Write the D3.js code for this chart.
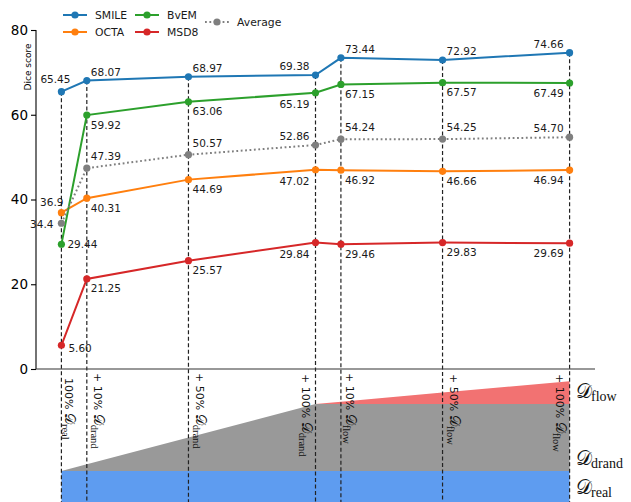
<!DOCTYPE html>
<html>
<head>
<meta charset="utf-8">
<script src="https://cdn.jsdelivr.net/npm/d3@7"></script>
<style>
  body { margin: 0; background: #fff; }
  svg { display: block; }
  .num { font-family: "DejaVu Sans", sans-serif; font-size: 10.5px; fill: #1a1a1a; }
  .leg { font-family: "DejaVu Sans", sans-serif; font-size: 10.8px; fill: #1a1a1a; }
  .cal { font-family: "DejaVu Serif", serif; }
  .sub { font-family: "Liberation Serif", "DejaVu Serif", serif; }
</style>
</head>
<body>
<div id="chart"></div>
<script>
// steps along the x axis (cumulative % of extra data)
const steps = [0, 10, 50, 100, 110, 150, 200];
const tickPrefix = ["100%", "+ 10%", "+ 50%", "+ 100%", "+ 10%", "+ 50%", "+ 100%"];
const tickSet = ["real", "drand", "drand", "drand", "flow", "flow", "flow"];

const seriesNames = ["SMILE", "OCTA", "BvEM", "MSD8", "Average"];
const smile = [65.45, 68.07, 68.97, 69.38, 73.44, 72.92, 74.66];
const octa = [36.9, 40.31, 44.69, 47.02, 46.92, 46.66, 46.94];
const bvem = [29.44, 59.92, 63.06, 65.19, 67.15, 67.57, 67.49];
const msd8 = [5.60, 21.25, 25.57, 29.84, 29.46, 29.83, 29.69];
const average = [34.4, 47.39, 50.57, 52.86, 54.24, 54.25, 54.70];
const labelText = {
  SMILE: ["65.45", "68.07", "68.97", "69.38", "73.44", "72.92", "74.66"],
  OCTA: ["36.9", "40.31", "44.69", "47.02", "46.92", "46.66", "46.94"],
  BvEM: ["29.44", "59.92", "63.06", "65.19", "67.15", "67.57", "67.49"],
  MSD8: ["5.60", "21.25", "25.57", "29.84", "29.46", "29.83", "29.69"],
  Average: ["34.4", "47.39", "50.57", "52.86", "54.24", "54.25", "54.70"]
};
const yTicks = [0, 20, 40, 60, 80];

// training set composition (stacked, relative units)
const realShare = [100, 100, 100, 100, 100, 100, 100];
const drandShare = [0, 10, 50, 100, 100, 100, 100];
const flowShare = [0, 0, 0, 0, 3.4, 17, 34];

const colors = { SMILE: "#1f77b4", OCTA: "#ff7f0e", BvEM: "#2ca02c", MSD8: "#d62728", Average: "#7f7f7f" };
const values = { SMILE: smile, OCTA: octa, BvEM: bvem, MSD8: msd8, Average: average };

const width = 631, height = 502;
const svg = d3.select("#chart").append("svg").attr("width", width).attr("height", height);

const x = d3.scaleLinear().domain([-10, 210]).range([36, 595]);
const y = d3.scaleLinear().domain([0, 80]).range([369, 30]);
const yb = d3.scaleLinear().domain([0, 200]).range([538, 404]);

// ---- bottom panel: stacked areas
const stackRows = steps.map(function(s, i) {
  return { s: s, real: realShare[i], drand: drandShare[i], flow: flowShare[i] };
});
const stacked = d3.stack().keys(["real", "drand", "flow"])(stackRows);
const areaCol = { real: "#5e9cf0", drand: "#999999", flow: "#f27272" };
const area = d3.area()
  .x(function(d) { return x(d.data.s); })
  .y0(function(d) { return yb(d[0]); })
  .y1(function(d) { return yb(d[1]); });
svg.append("g").selectAll("path").data(stacked).enter().append("path")
  .attr("d", area)
  .attr("fill", function(d) { return areaCol[d.key]; });

// right side labels of the stack
const sideLab = [["flow", 398], ["drand", 465], ["real", 494]];
sideLab.forEach(function(l) {
  var t = svg.append("text").attr("x", 576).attr("y", l[1]).attr("fill", "#111");
  t.append("tspan").attr("class", "cal").style("font-size", "20px").text("𝒟");
  t.append("tspan").attr("class", "sub").style("font-size", "14px").attr("dx", -1).attr("dy", 3).text(l[0]);
});

// ---- dashed guide lines
const topVal = steps.map(function(s, i) { return d3.max(seriesNames, function(n) { return values[n][i]; }); });
svg.append("g").selectAll("line").data(steps).enter().append("line")
  .attr("x1", function(d) { return x(d); })
  .attr("x2", function(d) { return x(d); })
  .attr("y1", function(d, i) { return y(topVal[i]); })
  .attr("y2", height)
  .attr("stroke", "#222")
  .attr("stroke-width", 1.2)
  .attr("stroke-dasharray", "4,2.5");

// ---- axes
const yAxis = d3.axisLeft(y).tickValues(yTicks).tickSize(5).tickPadding(3);
const gy = svg.append("g").attr("transform", "translate(36,0)").call(yAxis);
gy.select(".domain").attr("stroke", "#000").attr("stroke-width", 1.1).attr("d", "M0,30V369");
gy.selectAll(".tick line").attr("stroke", "#000").attr("stroke-width", 1.1);
gy.selectAll(".tick text").attr("font-family", "DejaVu Sans, sans-serif").attr("font-size", "13.5px").attr("fill", "#000");

svg.append("line").attr("x1", 36).attr("x2", 595).attr("y1", 369).attr("y2", 369)
  .attr("stroke", "#333").attr("stroke-width", 1.1);

svg.append("text")
  .attr("transform", "translate(31,67) rotate(-90)")
  .attr("text-anchor", "middle")
  .attr("font-family", "DejaVu Sans, sans-serif")
  .attr("font-size", "9px")
  .attr("fill", "#000")
  .text("Dice score");

// rotated tick labels
const tickDx = [4, 7, 8, -14, 5, 7, -14];
const tickTop = [378, 373, 373, 374, 373, 374, 374];
steps.forEach(function(s, i) {
  var t = svg.append("text")
    .attr("transform", "translate(" + (x(s) + tickDx[i]) + "," + tickTop[i] + ") rotate(90)")
    .attr("fill", "#111");
  t.append("tspan").attr("font-family", "DejaVu Sans, sans-serif").attr("font-size", "11px").text(tickPrefix[i] + " ");
  t.append("tspan").attr("class", "cal").attr("font-size", "14px").text("𝒟");
  t.append("tspan").attr("class", "sub").attr("font-size", "10.5px").attr("dy", 3).text(tickSet[i]);
});

// ---- lines + markers
const line = d3.line().x(function(d) { return x(d[0]); }).y(function(d) { return y(d[1]); });
seriesNames.forEach(function(n) {
  var pts = steps.map(function(s, i) { return [s, values[n][i]]; });
  svg.append("path").datum(pts)
    .attr("d", line)
    .attr("fill", "none")
    .attr("stroke", colors[n])
    .attr("stroke-width", 2)
    .attr("stroke-dasharray", n === "Average" ? "1.8,2.6" : null);
  svg.append("g").selectAll("circle").data(pts).enter().append("circle")
    .attr("cx", function(d) { return x(d[0]); })
    .attr("cy", function(d) { return y(d[1]); })
    .attr("r", 3.6)
    .attr("fill", colors[n]);
});

// value labels
const labelSide = { SMILE: "above", OCTA: "below", BvEM: "below", MSD8: "below", Average: "above" };
const firstLabel = {
  SMILE: { dx: -6, dy: -9, anchor: "middle" },
  OCTA: { dx: 2, dy: -7, anchor: "end" },
  BvEM: { dx: 6, dy: 4, anchor: "start" },
  MSD8: { dx: 7, dy: 7, anchor: "start" },
  Average: { dx: -8, dy: 5, anchor: "end" }
};
function labelPos(n, i) {
  if (i === 0) return firstLabel[n];
  var end = (i === 3 || i === 6);
  var dy;
  if (labelSide[n] === "above") dy = (n === "Average" && !end) ? -8 : -5;
  else dy = (i === 3) ? 15.5 : 13.5;
  return { dx: end ? -6 : 4, dy: dy, anchor: end ? "end" : "start" };
}
seriesNames.forEach(function(n) {
  steps.forEach(function(s, i) {
    var p = labelPos(n, i);
    svg.append("text").attr("class", "num")
      .attr("x", x(s) + p.dx)
      .attr("y", y(values[n][i]) + p.dy)
      .attr("text-anchor", p.anchor)
      .text(labelText[n][i]);
  });
});

// ---- legend
const legPos = { SMILE: [63, 15], OCTA: [63, 32], BvEM: [135, 15], MSD8: [135, 32], Average: [205, 22] };
seriesNames.forEach(function(n) {
  var p = legPos[n];
  var g = svg.append("g").attr("transform", "translate(" + p[0] + "," + p[1] + ")");
  g.append("line").attr("x1", 0).attr("x2", 24).attr("stroke", colors[n]).attr("stroke-width", 2)
    .attr("stroke-dasharray", n === "Average" ? "1.8,2.6" : null);
  g.append("circle").attr("cx", 12).attr("r", 3.6).attr("fill", colors[n]);
  g.append("text").attr("class", "leg").attr("x", 32).attr("y", 4).text(n);
});
</script>
</body>
</html>
